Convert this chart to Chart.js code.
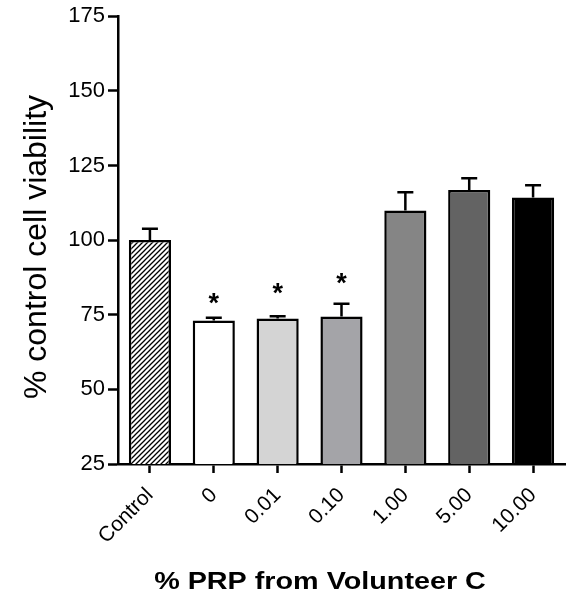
<!DOCTYPE html>
<html>
<head>
<meta charset="utf-8">
<script src="https://cdn.jsdelivr.net/npm/chart.js@4.4.0/dist/chart.umd.min.js"></script>
<style>
  html, body { margin: 0; padding: 0; background: #fff; }
  #c { display: block; }
</style>
</head>
<body>
<canvas id="c" width="568" height="606"></canvas>
<script>
// Cell viability relative to control, per PRP concentration
const categories = ['Control', '0', '0.01', '0.10', '1.00', '5.00', '10.00'];
const viability  = [100, 73.1, 73.7, 74.4, 109.9, 116.8, 114.3];
const sem        = [3.8, 0.9, 0.8, 4.3, 6.1, 3.9, 4.1];
// height (in % units) of the significance asterisk, null = not significant
const starLevel  = [null, 80.5, 83.8, 87.1, null, null, null];
const yTicks     = [25, 50, 75, 100, 125, 150, 175];

const FONT = '"Liberation Sans", Arial, Helvetica, sans-serif';

// diagonal hatch used for the control bar
function hatchPattern() {
  const s = 5;
  const t = document.createElement('canvas');
  t.width = s; t.height = s;
  const g = t.getContext('2d');
  g.fillStyle = '#fff';
  g.fillRect(0, 0, s, s);
  g.strokeStyle = '#000';
  g.lineWidth = 1.3;
  g.beginPath();
  g.moveTo(0, s); g.lineTo(s, 0);
  g.moveTo(-1, 1); g.lineTo(1, -1);
  g.moveTo(s - 1, s + 1); g.lineTo(s + 1, s - 1);
  g.stroke();
  return t.getContext('2d').createPattern(t, 'repeat');
}

const fills = [hatchPattern(), '#ffffff', '#d4d4d4', '#a4a4a8', '#858585', '#636363', '#000000'];

const errorBars = {
  id: 'errorBars',
  afterDatasetsDraw(chart) {
    const ctx = chart.ctx;
    const y = chart.scales.y;
    const meta = chart.getDatasetMeta(0);
    ctx.save();
    ctx.strokeStyle = '#000';
    ctx.lineWidth = 2.5;
    meta.data.forEach((bar, i) => {
      const top = y.getPixelForValue(viability[i]);
      const cap = y.getPixelForValue(viability[i] + sem[i]);
      ctx.beginPath();
      ctx.moveTo(bar.x, top);
      ctx.lineTo(bar.x, cap);
      ctx.moveTo(bar.x - 8, cap);
      ctx.lineTo(bar.x + 8, cap);
      ctx.stroke();
    });
    // significance markers
    ctx.fillStyle = '#000';
    ctx.font = 'bold 27px ' + FONT;
    ctx.textAlign = 'center';
    ctx.textBaseline = 'alphabetic';
    const m = ctx.measureText('*');
    const mid = (m.actualBoundingBoxAscent - m.actualBoundingBoxDescent) / 2;
    meta.data.forEach((bar, i) => {
      if (starLevel[i] == null) return;
      ctx.fillText('*', bar.x, y.getPixelForValue(starLevel[i]) + mid);
    });
    ctx.restore();
  }
};

const axisTitles = {
  id: 'axisTitles',
  afterDraw(chart) {
    const ctx = chart.ctx;
    ctx.save();
    ctx.fillStyle = '#000';
    ctx.textAlign = 'center';
    ctx.textBaseline = 'middle';
    // y title
    ctx.save();
    ctx.translate(37, 247);
    ctx.rotate(-Math.PI / 2);
    ctx.font = '32px ' + FONT;
    ctx.fillText('% control cell viability', 0, 0);
    ctx.restore();
    // x title
    ctx.save();
    ctx.translate(320, 583);
    ctx.scale(1.25, 1);
    ctx.font = 'bold 23px ' + FONT;
    ctx.fillText('% PRP from Volunteer C', 0, 0);
    ctx.restore();
    ctx.restore();
  }
};

new Chart(document.getElementById('c'), {
  type: 'bar',
  data: {
    labels: categories,
    datasets: [{
      data: viability,
      backgroundColor: fills,
      borderColor: '#000',
      borderWidth: 2.5,
      borderSkipped: 'start',
      barPercentage: 0.66,
      categoryPercentage: 1.0
    }]
  },
  options: {
    responsive: false,
    animation: false,
    devicePixelRatio: 1,
    layout: { padding: { left: 0, right: 3, top: 15, bottom: 0 } },
    plugins: { legend: { display: false }, tooltip: { enabled: false } },
    scales: {
      x: {
        offset: true,
        grid: {
          offset: false,
          drawOnChartArea: false,
          drawTicks: true,
          tickLength: 9,
          tickWidth: 2.5,
          tickColor: '#000'
        },
        border: { display: true, color: '#000', width: 2.5 },
        ticks: {
          color: '#000',
          font: { family: FONT, size: 21 },
          maxRotation: 45,
          minRotation: 45,
          padding: 10,
          autoSkip: false
        },
        afterFit(scale) { scale.height = 142; }
      },
      y: {
        min: yTicks[0],
        max: yTicks[yTicks.length - 1],
        afterBuildTicks(scale) { scale.ticks = yTicks.map(v => ({ value: v })); },
        grid: {
          drawOnChartArea: false,
          drawTicks: true,
          tickLength: 10,
          tickWidth: 2.5,
          tickColor: '#000'
        },
        border: { display: true, color: '#000', width: 2.5 },
        ticks: {
          color: '#000',
          font: { family: FONT, size: 22 },
          padding: 3
        },
        afterFit(scale) { scale.width = 118; }
      }
    }
  },
  plugins: [errorBars, axisTitles]
});
</script>
</body>
</html>
